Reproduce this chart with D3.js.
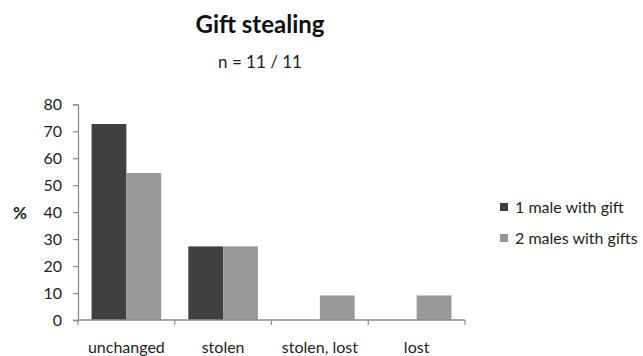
<!DOCTYPE html>
<html><head><meta charset="utf-8">
<script src="https://cdn.jsdelivr.net/npm/d3@7"></script>
<style>html,body{margin:0;padding:0;background:#fff;overflow:hidden}svg{display:block}</style>
</head><body>
<script>
const categories = ["unchanged", "stolen", "stolen, lost", "lost"];
const seriesNames = ["1 male with gift", "2 males with gifts"];
const oneMale = [72.7, 27.3, 0, 0];
const twoMales = [54.5, 27.3, 9.1, 9.1];
const yTicks = [0, 10, 20, 30, 40, 50, 60, 70, 80];
const colors = ["#404040", "#999999"];

(function () {
const W = 643, H = 356;
const font = "Lato, 'Open Sans', sans-serif";
const textColor = "#1e1e1e";
const svg = d3.select("body").append("svg").attr("width", W).attr("height", H);

const pLeft = 78, pRight = 465, pTop = 104.3, pBottom = 320;
const x = d3.scaleBand().domain(categories).range([pLeft, pRight]).paddingInner(0).paddingOuter(0);
const xs = d3.scaleBand().domain(seriesNames).range([0, x.bandwidth()]).paddingInner(0).paddingOuter(0.39);
const y = d3.scaleLinear().domain([0, 80]).range([pBottom, pTop]);

const series = [oneMale, twoMales];
series.forEach((vals, si) => {
  svg.append("g").selectAll("rect").data(categories).join("rect")
    .attr("x", c => x(c) + xs(seriesNames[si]))
    .attr("width", xs.bandwidth())
    .attr("y", (c, i) => y(vals[i]))
    .attr("height", (c, i) => y(0) - y(vals[i]))
    .attr("fill", colors[si]);
});

// y axis
const ya = svg.append("g").attr("transform", `translate(${pLeft},0)`)
  .call(d3.axisLeft(y).tickValues(yTicks).tickSize(5).tickPadding(11));
ya.select(".domain").attr("stroke", "#8c8c8c").attr("stroke-width", 1.3);
ya.selectAll(".tick line").attr("stroke", "#8c8c8c").attr("stroke-width", 1.2);
ya.selectAll("text").attr("font-family", font).attr("font-size", 16).attr("fill", textColor);

// x axis
const xTickPos = d3.range(categories.length + 1).map(i => pLeft + i * x.bandwidth());
svg.append("line").attr("x1", pLeft).attr("x2", pRight).attr("y1", pBottom).attr("y2", pBottom)
  .attr("stroke", "#8c8c8c").attr("stroke-width", 1.3);
svg.append("g").selectAll("line").data(xTickPos).join("line")
  .attr("x1", d => d).attr("x2", d => d).attr("y1", pBottom).attr("y2", pBottom + 5)
  .attr("stroke", "#8c8c8c").attr("stroke-width", 1.2);
svg.append("g").selectAll("text").data(categories).join("text")
  .attr("x", c => x(c) + x.bandwidth() / 2).attr("y", 353)
  .attr("text-anchor", "middle").attr("font-family", font).attr("font-size", 16)
  .attr("fill", textColor).text(c => c);

// y label
svg.append("text").attr("x", 20).attr("y", 219).attr("text-anchor", "middle")
  .attr("font-family", font).attr("font-size", 17).attr("font-weight", "bold").attr("fill", textColor).text("%");

// titles
svg.append("text").attr("x", 260).attr("y", 33).attr("text-anchor", "middle")
  .attr("font-family", font).attr("font-size", 24).attr("font-weight", "bold").attr("fill", "#111").text("Gift stealing");
svg.append("text").attr("x", 260).attr("y", 68).attr("text-anchor", "middle")
  .attr("font-family", font).attr("font-size", 17).attr("fill", textColor).text("n = 11 / 11");

// legend
const lg = svg.append("g").selectAll("g").data(seriesNames).join("g")
  .attr("transform", (d, i) => `translate(500,${203 + i * 31})`);
lg.append("rect").attr("width", 8).attr("height", 8).attr("fill", (d, i) => colors[i]);
lg.append("text").attr("x", 15).attr("y", 9.5).attr("font-family", font).attr("font-size", 16)
  .attr("fill", textColor).text(d => d);
})();
</script>
</body></html>
